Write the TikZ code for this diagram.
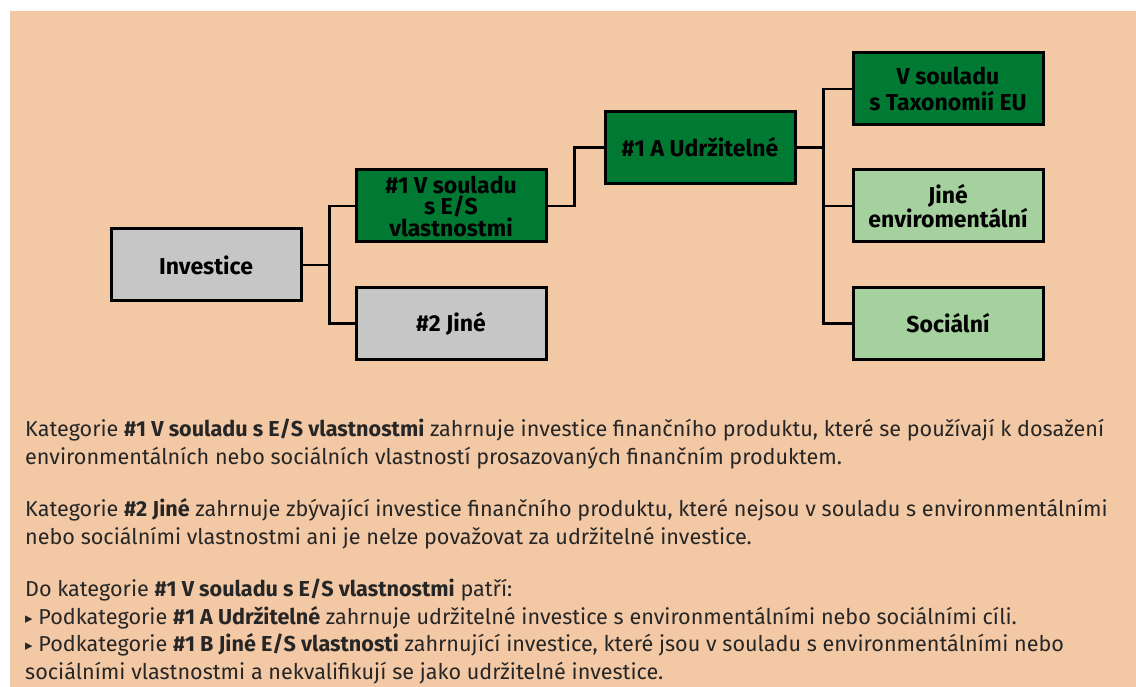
\documentclass[tikz,border=0pt]{standalone}
\usepackage{fontspec}
\setmainfont{Fira Sans}
\newfontfamily\symfont{DejaVu Sans}
\usetikzlibrary{positioning}
\definecolor{peach}{HTML}{F3C8A5}
\definecolor{darkgreen}{HTML}{007A33}
\definecolor{lightgreen}{HTML}{A5D19E}
\definecolor{boxgrey}{HTML}{C6C6C6}
\newcommand{\tri}{\raisebox{1pt}{\symfont\fontsize{15}{15}\selectfont ▸}}

\begin{document}
\begin{tikzpicture}[x=1pt, y=-1pt,
    catbox/.style={draw, line width=3pt, fill=#1, minimum width=190pt,
                   minimum height=72pt, align=center, inner sep=2pt,
                   font=\fontsize{23}{21.5}\selectfont\bfseries},
    link/.style={line width=2.5pt},
    para/.style={anchor=base west, align=left, inner sep=0pt,
                 font=\fontsize{21.6}{27.5}\selectfont, text=black!85}]
  \useasboundingbox (0,0) rectangle (1136,687);
  \fill[peach] (10,11) rectangle (1136,687);
  %% category tree
  \node[catbox=boxgrey]    (inv) at (206,265)   {Investice};
  \node[catbox=darkgreen]  (es)  at (451,206)   {\#1 V souladu\\ s E/S\\ vlastnostmi};
  \node[catbox=boxgrey]    (oth) at (451,323.5) {\#2 Jiné};
  \node[catbox=darkgreen]  (udr) at (700,147.5) {\#1 A Udržitelné};
  \node[catbox=darkgreen]  (tax) at (948,89)    {V souladu\\[5pt] s Taxonomií EU};
  \node[catbox=lightgreen] (env) at (948,206)   {Jiné\\ enviromentální};
  \node[catbox=lightgreen] (soc) at (948,323.5) {Sociální};
  %% elbow connectors
  \foreach \from/\to in {inv/es,inv/oth,es/udr,udr/tax,udr/env,udr/soc}
    \draw[link] (\from.east) -- ++(27,0) |- (\to.west);
  %% explanation below the tree (placed by the baseline of the last line)
  \node[para] (p1) at (25,464)
    {Kategorie \textbf{\#1 V souladu s E/S vlastnostmi} zahrnuje investice finančního produktu, které se používají k dosažení\\
     environmentálních nebo sociálních vlastností prosazovaných finančním produktem.};
  \node[para] (p2) at (25,544)
    {Kategorie \textbf{\#2 Jiné} zahrnuje zbývající investice finančního produktu, které nejsou v souladu s environmentálními\\
     nebo sociálními vlastnostmi ani je nelze považovat za udržitelné investice.};
  \node[para] (p3) at (25,679)
    {Do kategorie \textbf{\#1 V souladu s E/S vlastnostmi} patří:\\
     \tri\ Podkategorie \textbf{\#1 A Udržitelné} zahrnuje udržitelné investice s environmentálními nebo sociálními cíli.\\
     \tri\ Podkategorie \textbf{\#1 B Jiné E/S vlastnosti} zahrnující investice, které jsou v souladu s environmentálními nebo\\
     sociálními vlastnostmi a nekvalifikují se jako udržitelné investice.};
\end{tikzpicture}
\end{document}
